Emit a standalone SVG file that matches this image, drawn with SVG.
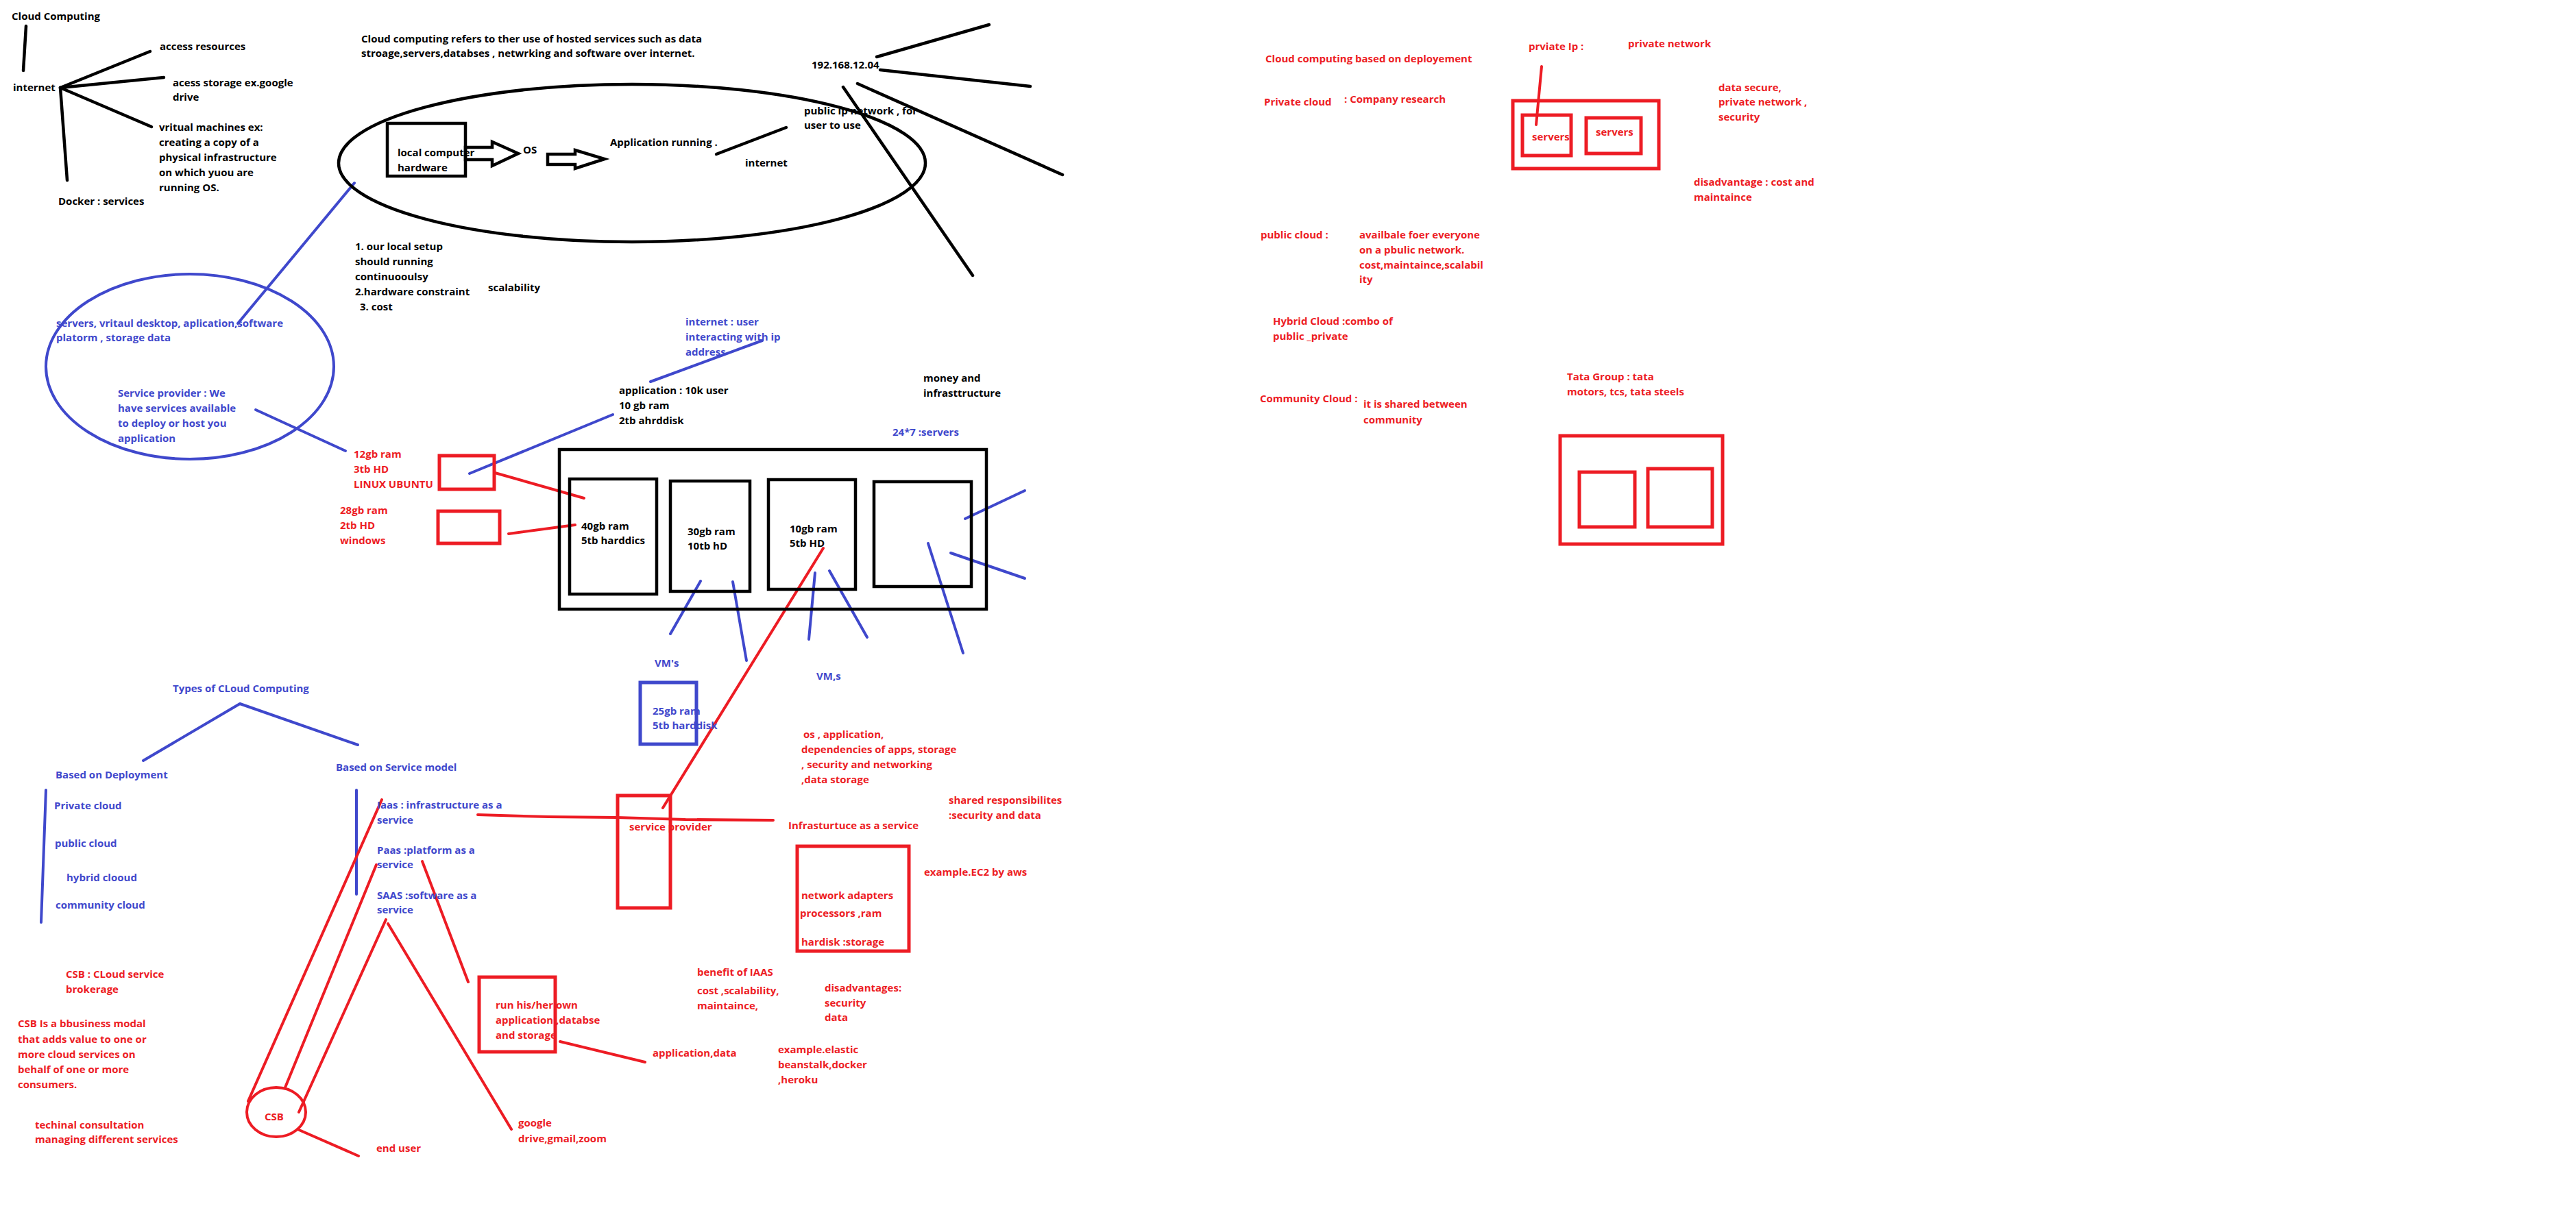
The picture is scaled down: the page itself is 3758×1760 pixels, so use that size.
<svg xmlns="http://www.w3.org/2000/svg" width="3758" height="1760" viewBox="0 0 3758 1760">
<style>
.t{font-family:"Open Sans","Liberation Sans",Arial,sans-serif;font-weight:700;font-size:15px}
.k{fill:#000}.b{fill:#3f48cc}.r{fill:#ed1c24}
.lk{stroke:#000;stroke-width:4.5;fill:none;stroke-linecap:round;stroke-linejoin:round}
.lb{stroke:#3f48cc;stroke-width:4;fill:none;stroke-linecap:round;stroke-linejoin:round}
.lr{stroke:#ed1c24;stroke-width:4;fill:none;stroke-linecap:round;stroke-linejoin:round}
.bk{stroke:#000;stroke-width:4.5;fill:none}
.bb{stroke:#3f48cc;stroke-width:5;fill:none}
.br{stroke:#ed1c24;stroke-width:5;fill:none}
</style>
<rect width="3758" height="1760" fill="#fff"/>

<g id="connectors">
  <!-- top-left -->
  <line class="lk" x1="38" y1="38" x2="34" y2="103"/>
  <line class="lk" x1="88" y1="128" x2="219" y2="75"/>
  <line class="lk" x1="88" y1="128" x2="239" y2="113"/>
  <line class="lk" x1="88" y1="128" x2="221" y2="185"/>
  <line class="lk" x1="88" y1="128" x2="98" y2="263"/>
  <!-- app to internet -->
  <line class="lk" x1="1045" y1="225" x2="1147" y2="186"/>
  <!-- ip lines -->
  <line class="lk" x1="1279" y1="83" x2="1443" y2="36"/>
  <line class="lk" x1="1284" y1="102" x2="1503" y2="126"/>
  <line class="lk" x1="1251" y1="122" x2="1550" y2="255"/>
  <line class="lk" x1="1230" y1="127" x2="1419" y2="402"/>
  <!-- blue lines -->
  <line class="lb" x1="517" y1="267" x2="347" y2="472"/>
  <line class="lb" x1="373" y1="598" x2="504" y2="658"/>
  <line class="lb" x1="949" y1="557" x2="1112" y2="497"/>
  <line class="lb" x1="894" y1="605" x2="685" y2="691"/>
  <line class="lb" x1="1022" y1="848" x2="978" y2="925"/>
  <line class="lb" x1="1069" y1="849" x2="1089" y2="964"/>
  <line class="lb" x1="1189" y1="836" x2="1180" y2="933"/>
  <line class="lb" x1="1210" y1="833" x2="1265" y2="930"/>
  <line class="lb" x1="1354" y1="793" x2="1405" y2="953"/>
  <line class="lb" x1="1408" y1="757" x2="1495" y2="716"/>
  <line class="lb" x1="1387" y1="807" x2="1495" y2="844"/>
  <polyline class="lb" points="209,1110 350,1027 522,1087"/>
  <line class="lb" x1="67" y1="1153" x2="60" y2="1346"/>
  <line class="lb" x1="520" y1="1153" x2="520" y2="1305"/>
  <!-- red lines -->
  <line class="lr" x1="722" y1="690" x2="852" y2="727"/>
  <line class="lr" x1="742" y1="779" x2="839" y2="766"/>
  <line class="lr" x1="1201" y1="800" x2="967" y2="1179"/>
  <polyline class="lr" points="697,1189 800,1192 900,1193 1000,1196 1128,1197"/>
  <line class="lr" x1="557" y1="1167" x2="362" y2="1607"/>
  <line class="lr" x1="549" y1="1262" x2="416" y2="1587"/>
  <line class="lr" x1="563" y1="1342" x2="436" y2="1623"/>
  <line class="lr" x1="566" y1="1348" x2="746" y2="1648"/>
  <line class="lr" x1="616" y1="1257" x2="683" y2="1433"/>
  <line class="lr" x1="817" y1="1520" x2="941" y2="1550"/>
  <line class="lr" x1="434" y1="1648" x2="523" y2="1687"/>
  <line class="lr" x1="2249" y1="97" x2="2241" y2="182"/>
</g>

<g id="title" class="t k"><text x="17" y="29">Cloud Computing</text></g>
<g id="internet" class="t k"><text x="19" y="133">internet</text></g>
<g id="access-resources" class="t k"><text x="233" y="73">access resources</text></g>
<g id="access-storage" class="t k"><text x="252" y="126">acess storage ex.google<tspan x="252" y="147">drive</tspan></text></g>
<g id="virtual-machines" class="t k"><text x="232" y="191">vritual machines  ex:<tspan x="232" y="213">creating a copy of a</tspan><tspan x="232" y="235">physical infrastructure</tspan><tspan x="232" y="257">on which yuou are</tspan><tspan x="232" y="279">running OS.</tspan></text></g>
<g id="docker" class="t k"><text x="85" y="299">Docker : services</text></g>
<g id="definition" class="t k"><text x="527" y="62">Cloud computing refers to ther use of hosted services such as data<tspan x="527" y="83">stroage,servers,databses , netwrking and software over internet.</tspan></text></g>

<g id="local-setup">
  <ellipse class="bk" cx="922" cy="238" rx="428" ry="115"/>
  <rect class="bk" x="565" y="180" width="114" height="77"/>
  <text class="t k" x="580" y="228">local computer<tspan x="580" y="250">hardware</tspan></text>
  <polygon class="bk" points="679,215 718,215 718,207 756,224 718,242 718,233 679,233"/>
  <text class="t k" x="763" y="224">OS</text>
  <polygon class="bk" points="799,225 839,225 839,219 882,232 839,246 839,240 799,240"/>
  <text class="t k" x="890" y="213">Application running .</text>
  <text class="t k" x="1087" y="243">internet</text>
</g>
<g id="ip" class="t k"><text x="1184" y="100">192.168.12.04</text></g>
<g id="public-ip" class="t k"><text x="1173" y="167">public ip network , for<tspan x="1173" y="188">user to use</tspan></text></g>
<g id="problems" class="t k"><text x="518" y="365">1. our local setup<tspan x="518" y="387">should running</tspan><tspan x="518" y="409">continuooulsy</tspan><tspan x="518" y="431">2.hardware constraint</tspan><tspan x="525" y="453">3. cost</tspan></text></g>
<g id="scalability" class="t k"><text x="712" y="425">scalability</text></g>

<g id="service-provider-cloud">
  <ellipse class="lb" cx="277" cy="535" rx="210" ry="135"/>
  <text class="t b" x="82" y="477">servers, vritaul desktop, aplication,software<tspan x="82" y="498">platorm , storage data</tspan></text>
  <text class="t b" x="172" y="579">Service provider : We<tspan x="172" y="601">have services available</tspan><tspan x="172" y="623">to deploy or host you</tspan><tspan x="172" y="645">application</tspan></text>
</g>
<g id="internet-user" class="t b"><text x="1000" y="475">internet : user<tspan x="1000" y="497">interacting with ip</tspan><tspan x="1000" y="519">address</tspan></text></g>
<g id="application" class="t k"><text x="903" y="575">application : 10k user<tspan x="903" y="597">10 gb ram</tspan><tspan x="903" y="619">2tb ahrddisk</tspan></text></g>
<g id="money" class="t k"><text x="1347" y="557">money and<tspan x="1347" y="579">infrasttructure</tspan></text></g>
<g id="servers-label" class="t b"><text x="1302" y="636">24*7 :servers</text></g>

<g id="linux-machine">
  <rect class="br" x="641" y="665" width="80" height="49"/>
  <text class="t r" x="516" y="668">12gb ram<tspan x="516" y="690">3tb HD</tspan><tspan x="516" y="712">LINUX UBUNTU</tspan></text>
</g>
<g id="windows-machine">
  <rect class="br" x="639" y="746" width="90" height="47"/>
  <text class="t r" x="496" y="750">28gb ram<tspan x="496" y="772">2tb HD</tspan><tspan x="496" y="794">windows</tspan></text>
</g>

<g id="datacenter">
  <rect class="bk" x="816" y="656" width="623" height="233"/>
  <rect class="bk" x="831" y="699" width="127" height="168"/>
  <text class="t k" x="848" y="773">40gb ram<tspan x="848" y="794">5tb harddics</tspan></text>
  <rect class="bk" x="978" y="702" width="116" height="161"/>
  <text class="t k" x="1003" y="781">30gb ram<tspan x="1003" y="802">10tb hD</tspan></text>
  <rect class="bk" x="1121" y="700" width="127" height="160"/>
  <text class="t k" x="1152" y="777">10gb ram<tspan x="1152" y="798">5tb HD</tspan></text>
  <rect class="bk" x="1275" y="703" width="142" height="153"/>
</g>
<g id="vms1" class="t b"><text x="955" y="973">VM's</text></g>
<g id="vms2" class="t b"><text x="1191" y="992">VM,s</text></g>
<g id="vm-box">
  <rect class="bb" x="934" y="996" width="82" height="90"/>
  <text class="t b" x="952" y="1043">25gb ram<tspan x="952" y="1064">5tb harddisk</tspan></text>
</g>

<g id="types" class="t b"><text x="252" y="1010">Types of CLoud Computing</text></g>
<g id="deployment" class="t b">
  <text x="81" y="1136">Based on Deployment</text>
  <text x="79" y="1181">Private cloud</text>
  <text x="80" y="1236">public cloud</text>
  <text x="97" y="1286">hybrid clooud</text>
  <text x="81" y="1326">community cloud</text>
</g>
<g id="service-model" class="t b">
  <text x="490" y="1125">Based on Service model</text>
  <text x="550" y="1180">Iaas : infrastructure as a<tspan x="550" y="1202">service</tspan></text>
  <text x="550" y="1246">Paas :platform as a<tspan x="550" y="1267">service</tspan></text>
  <text x="550" y="1312">SAAS :software as a<tspan x="550" y="1333">service</tspan></text>
</g>

<g id="csb-def" class="t r">
  <text x="96" y="1427">CSB : CLoud service<tspan x="96" y="1449">brokerage</tspan></text>
  <text x="26" y="1499">CSB Is a bbusiness modal<tspan x="26" y="1522">that adds value to one or</tspan><tspan x="26" y="1544">more cloud services on</tspan><tspan x="26" y="1566">behalf of one or more</tspan><tspan x="26" y="1588">consumers.</tspan></text>
  <text x="51" y="1647">techinal consultation<tspan x="51" y="1668">managing different services</tspan></text>
</g>
<g id="csb">
  <ellipse class="lr" cx="403" cy="1623" rx="43" ry="36"/>
  <text class="t r" x="386" y="1635">CSB</text>
</g>
<g id="end-user" class="t r"><text x="549" y="1681">end user</text></g>
<g id="paas-box">
  <rect class="br" x="699" y="1426" width="111" height="109"/>
  <text class="t r" x="723" y="1472">run his/her own<tspan x="723" y="1494">application  ,databse</tspan><tspan x="723" y="1516">and storage</tspan></text>
</g>
<g id="app-data" class="t r"><text x="952" y="1542">application,data</text></g>
<g id="saas-examples" class="t r"><text x="756" y="1644">google<tspan x="756" y="1667">drive,gmail,zoom</tspan></text></g>

<g id="service-provider">
  <rect class="br" x="901" y="1161" width="77" height="164"/>
  <text class="t r" x="918" y="1212">service provider</text>
</g>
<g id="iaas-details" class="t r"><text x="1172" y="1077">os , application,<tspan x="1169" y="1099">dependencies of apps, storage</tspan><tspan x="1169" y="1121">, security and networking</tspan><tspan x="1169" y="1143">,data storage</tspan></text></g>
<g id="iaas" class="t r"><text x="1150" y="1210">Infrasturtuce as a service</text></g>
<g id="shared" class="t r"><text x="1384" y="1173">shared responsibilites<tspan x="1384" y="1195">:security and data</tspan></text></g>
<g id="ec2" class="t r"><text x="1348" y="1278">example.EC2 by aws</text></g>
<g id="iaas-box">
  <rect class="br" x="1163" y="1235" width="163" height="153"/>
  <text class="t r" x="1169" y="1312">network adapters<tspan x="1167" y="1338">processors ,ram</tspan><tspan x="1169" y="1380">hardisk :storage</tspan></text>
</g>
<g id="benefit" class="t r"><text x="1017" y="1424">benefit of IAAS<tspan x="1017" y="1451">cost ,scalability,</tspan><tspan x="1017" y="1473">maintaince,</tspan></text></g>
<g id="disadvantages" class="t r"><text x="1203" y="1447">disadvantages:<tspan x="1203" y="1469">security</tspan><tspan x="1203" y="1490">data</tspan></text></g>
<g id="paas-examples" class="t r"><text x="1135" y="1537">example.elastic<tspan x="1135" y="1559">beanstalk,docker</tspan><tspan x="1135" y="1581">,heroku</tspan></text></g>

<g id="deploy-title" class="t r"><text x="1846" y="91">Cloud computing based on deployement</text></g>
<g id="private-cloud" class="t r"><text x="1844" y="154">Private cloud</text><text x="1961" y="150">: Company research</text></g>
<g id="private-ip" class="t r"><text x="2230" y="73">prviate Ip  :</text></g>
<g id="private-network" class="t r"><text x="2375" y="69">private network</text></g>
<g id="private-servers">
  <rect class="br" x="2207" y="147" width="213" height="99"/>
  <rect class="br" x="2221" y="168" width="71" height="59"/>
  <text class="t r" x="2235" y="205">servers</text>
  <rect class="br" x="2314" y="172" width="80" height="52"/>
  <text class="t r" x="2328" y="198">servers</text>
</g>
<g id="private-adv" class="t r"><text x="2507" y="133">data secure,<tspan x="2507" y="154">private network ,</tspan><tspan x="2507" y="176">security</tspan></text></g>
<g id="private-disadv" class="t r"><text x="2471" y="271">disadvantage : cost and<tspan x="2471" y="293">maintaince</tspan></text></g>
<g id="public-cloud" class="t r"><text x="1839" y="348">public cloud :</text><text x="1983" y="348">availbale foer everyone<tspan x="1983" y="370">on a pbulic network.</tspan><tspan x="1983" y="392">cost,maintaince,scalabil</tspan><tspan x="1983" y="413">ity</tspan></text></g>
<g id="hybrid-cloud" class="t r"><text x="1857" y="474">Hybrid Cloud :combo of<tspan x="1857" y="496">public _private</tspan></text></g>
<g id="community-cloud" class="t r"><text x="1838" y="587">Community Cloud :</text><text x="1989" y="595">it is shared between<tspan x="1989" y="618">community</tspan></text></g>
<g id="tata" class="t r"><text x="2286" y="555">Tata Group : tata<tspan x="2286" y="577">motors, tcs, tata steels</tspan></text></g>
<g id="tata-box">
  <rect class="br" x="2276" y="636" width="237" height="158"/>
  <rect class="br" x="2304" y="689" width="81" height="80"/>
  <rect class="br" x="2404" y="684" width="94" height="85"/>
</g>
</svg>
